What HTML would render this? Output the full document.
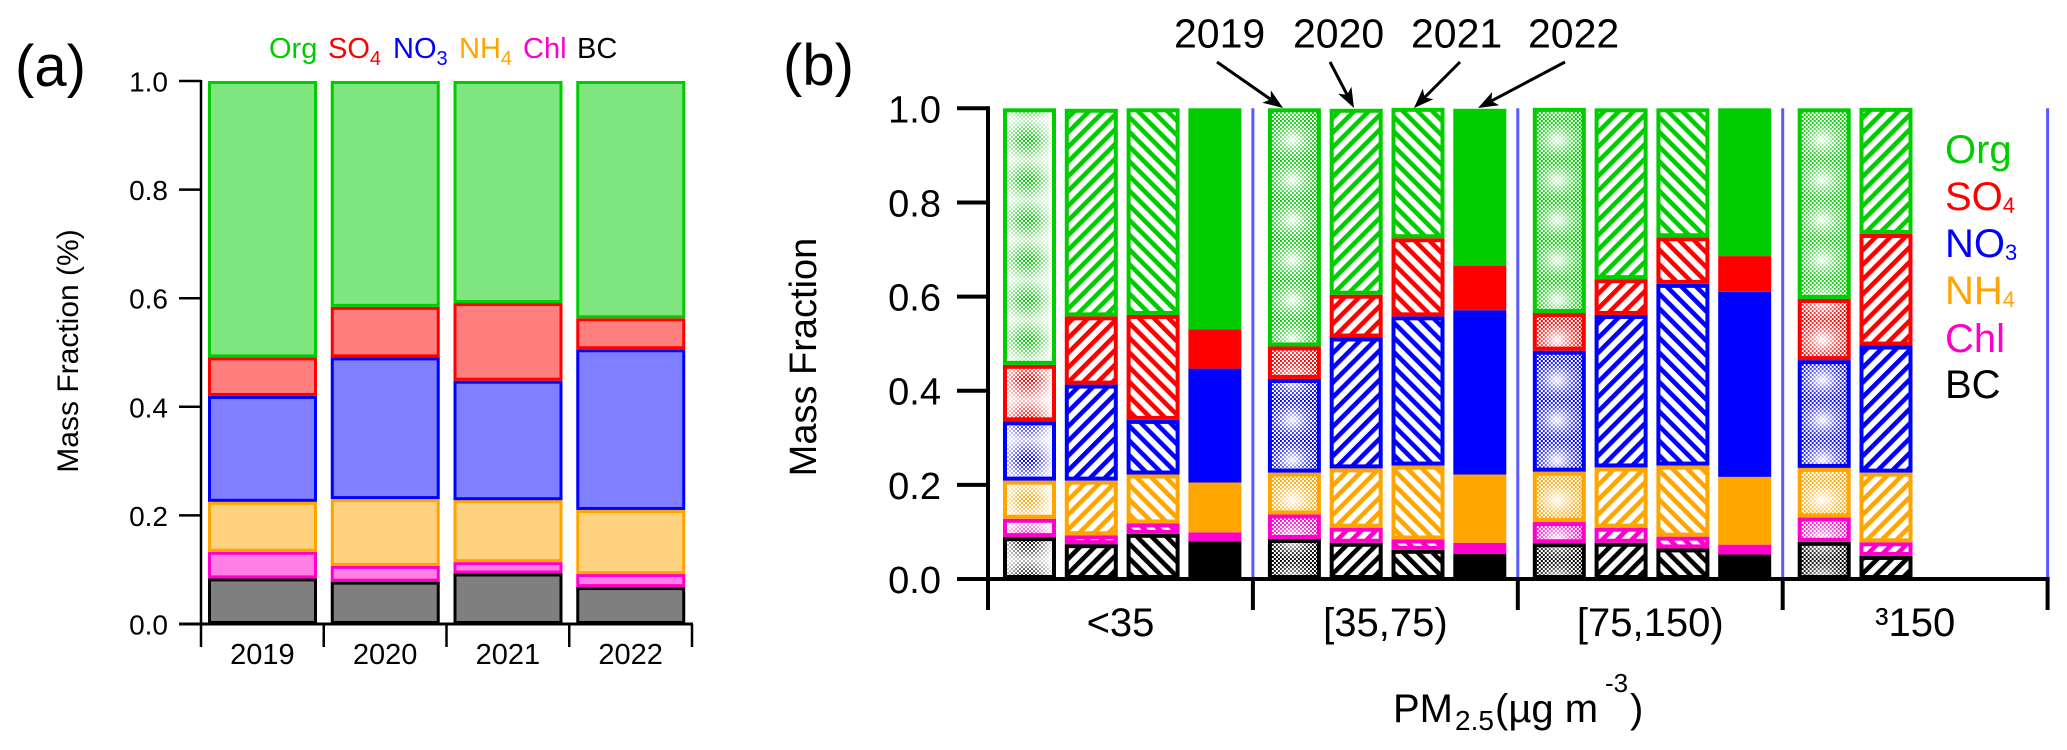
<!DOCTYPE html>
<html>
<head>
<meta charset="utf-8">
<title>Mass fraction charts</title>
<style>
html,body{margin:0;padding:0;background:#fff;width:2067px;height:750px;overflow:hidden}
svg{display:block}
text{font-family:"Liberation Sans",Arial,sans-serif;fill:#000}
</style>
</head>
<body>
<svg id="figure" xmlns="http://www.w3.org/2000/svg" width="2067" height="750" viewBox="0 0 2067 750">
<defs>
  <pattern id="wspot" patternUnits="userSpaceOnUse" width="49" height="40">
    <rect width="49" height="40" fill="url(#spotGrad)"/>
  </pattern>
  <radialGradient id="spotGrad" cx="0.5" cy="0.5" r="0.55">
    <stop offset="0" stop-color="#fff" stop-opacity="0.95"/>
    <stop offset="0.55" stop-color="#fff" stop-opacity="0.3"/>
    <stop offset="1" stop-color="#fff" stop-opacity="0"/>
  </radialGradient>
  <pattern id="wedge" patternUnits="userSpaceOnUse" width="49" height="40">
    <rect width="49" height="40" fill="url(#edgeGrad)"/>
    <rect width="49" height="40" fill="url(#bandGrad)"/>
  </pattern>
  <linearGradient id="edgeGrad" x1="0" x2="1" y1="0" y2="0">
    <stop offset="0" stop-color="#fff" stop-opacity="0.9"/>
    <stop offset="0.4" stop-color="#fff" stop-opacity="0"/>
    <stop offset="0.6" stop-color="#fff" stop-opacity="0"/>
    <stop offset="1" stop-color="#fff" stop-opacity="0.9"/>
  </linearGradient>
  <linearGradient id="bandGrad" x1="0" x2="0" y1="0" y2="1">
    <stop offset="0" stop-color="#fff" stop-opacity="0.75"/>
    <stop offset="0.5" stop-color="#fff" stop-opacity="0"/>
    <stop offset="1" stop-color="#fff" stop-opacity="0.75"/>
  </linearGradient>
</defs>
<g id="panelA"></g>
<g id="panelB"></g>

<text x="15" y="86" font-size="58">(a)</text>
<text x="783" y="85" font-size="58">(b)</text>
<text transform="translate(78,351) rotate(-90)" text-anchor="middle" font-size="30">Mass Fraction (%)</text>
<text transform="translate(816,357) rotate(-90)" text-anchor="middle" font-size="38">Mass Fraction</text>

<g font-size="29">
  <text x="269" y="58" style="fill:#00cc00">Org</text>
  <text x="328" y="58" style="fill:#ff0000">SO<tspan font-size="20" dy="7">4</tspan></text>
  <text x="393" y="58" style="fill:#0000ff">NO<tspan font-size="20" dy="7">3</tspan></text>
  <text x="459" y="58" style="fill:#ffa500">NH<tspan font-size="20" dy="7">4</tspan></text>
  <text x="523" y="58" style="fill:#ff00cc">Chl</text>
  <text x="577" y="58">BC</text>
</g>

<g font-size="40">
  <text x="1945" y="163" style="fill:#00cc00">Org</text>
  <text x="1945" y="210" style="fill:#ff0000">SO<tspan font-size="22" dy="3">4</tspan></text>
  <text x="1945" y="257" style="fill:#0000ff">NO<tspan font-size="22" dy="3">3</tspan></text>
  <text x="1945" y="304" style="fill:#ffa500">NH<tspan font-size="22" dy="3">4</tspan></text>
  <text x="1945" y="352" style="fill:#ff00cc">Chl</text>
  <text x="1945" y="398">BC</text>
</g>

<g font-size="40">
  <text x="1393" y="722">PM</text>
  <text x="1455" y="730" font-size="28">2.5</text>
  <text x="1495" y="722">(µg m</text>
  <text x="1605" y="692" font-size="26">-3</text>
  <text x="1630" y="722">)</text>
</g>

<g id="annotations" font-size="41"></g>
</svg>

<script>
// ---------- Panel (a) data ----------
var yearsA = ['2019', '2020', '2021', '2022'];
var aBC  = [0.084, 0.078, 0.093, 0.068];
var aChl = [0.049, 0.029, 0.021, 0.024];
var aNH4 = [0.092, 0.123, 0.114, 0.118];
var aNO3 = [0.195, 0.261, 0.220, 0.296];
var aSO4 = [0.071, 0.093, 0.143, 0.057];
var aOrg = [0.509, 0.416, 0.409, 0.437];
var yTickValues = [0, 0.2, 0.4, 0.6, 0.8, 1.0];
var yTickLabels = ['0.0', '0.2', '0.4', '0.6', '0.8', '1.0'];

// ---------- Panel (b) data: [group][year] ----------
var groupLabels = ['<35', '[35,75)', '[75,150)', '\u00B3150'];
var bBC  = [[0.089, 0.074, 0.096, 0.080], [0.085, 0.077, 0.062, 0.053], [0.076, 0.077, 0.065, 0.052], [0.079, 0.049]];
var bChl = [[0.039, 0.019, 0.022, 0.019], [0.052, 0.032, 0.022, 0.024], [0.045, 0.032, 0.025, 0.021], [0.052, 0.029]];
var bNH4 = [[0.081, 0.116, 0.104, 0.106], [0.089, 0.126, 0.157, 0.145], [0.107, 0.128, 0.151, 0.144], [0.105, 0.148]];
var bNO3 = [[0.126, 0.204, 0.116, 0.242], [0.199, 0.278, 0.317, 0.349], [0.257, 0.324, 0.386, 0.393], [0.229, 0.270]];
var bSO4 = [[0.120, 0.145, 0.223, 0.083], [0.069, 0.091, 0.166, 0.094], [0.080, 0.076, 0.099, 0.076], [0.130, 0.237]];
var bOrg = [[0.545, 0.441, 0.439, 0.470], [0.506, 0.395, 0.277, 0.334], [0.436, 0.363, 0.274, 0.314], [0.405, 0.268]];
var annotationYears = ['2019', '2020', '2021', '2022'];

var speciesColors = ['#000000', '#ff00cc', '#ffa500', '#0000ff', '#ff0000', '#00cc00'];
var speciesNames = ['bc', 'chl', 'nh4', 'no3', 'so4', 'org'];
var speciesA = [aBC, aChl, aNH4, aNO3, aSO4, aOrg];
var speciesB = [bBC, bChl, bNH4, bNO3, bSO4, bOrg];

var NS = 'http://www.w3.org/2000/svg';
function mk(tag, attrs, parent) {
  var e = document.createElementNS(NS, tag);
  for (var k in attrs) e.setAttribute(k, attrs[k]);
  parent.appendChild(e);
  return e;
}

// axis functions
function yA(v) { return 624 - v * 543; }
function xA(i) { return 201 + i * 122.75; }
function yB(v) { return 579 - v * 470.7; }
function xBGroup(g) { return 988 + g * 264.9; }
function xBBar(g, j) { return xBGroup(g) + 15 + j * 61.8; }

// patterns
var defs = document.querySelector('#figure defs');
speciesColors.forEach(function (c, s) {
  var ch = mk('pattern', { id: 'chk' + s, patternUnits: 'userSpaceOnUse', width: 4, height: 4 }, defs);
  mk('rect', { width: 4, height: 4, fill: '#fff' }, ch);
  mk('rect', { width: 2, height: 2, fill: c }, ch);
  mk('rect', { x: 2, y: 2, width: 2, height: 2, fill: c }, ch);
  [['up', 45], ['dn', -45]].forEach(function (d) {
    var h = mk('pattern', { id: d[0] + s, patternUnits: 'userSpaceOnUse', width: 10.4, height: 10.4, patternTransform: 'rotate(' + d[1] + ')' }, defs);
    mk('rect', { width: 10.4, height: 10.4, fill: '#fff' }, h);
    mk('rect', { width: 4.6, height: 10.4, fill: c }, h);
  });
});

// ---------- Panel (a) ----------
var pa = document.getElementById('panelA');
yearsA.forEach(function (yr, i) {
  var base = 0;
  var barG = mk('g', {}, pa);
  
  
  speciesA.forEach(function (arr, s) {
    var top = base + arr[i];
    var y0 = yA(top), y1 = yA(base);
    var r = mk('rect', {
      x: xA(i) + 7 + 1.5, y: y0 + 1.5, width: 106, height: Math.max(0, y1 - y0 - 3),
      fill: speciesColors[s], 'fill-opacity': 0.5, stroke: speciesColors[s], 'stroke-width': 3
    }, barG);
    
    
    base = top;
  });
  var lab = mk('text', { x: xA(i) + 61.4, y: 664, 'text-anchor': 'middle', 'font-size': 29 }, pa);
  lab.textContent = yr;
  
  
});
var yAxisA = mk('line', { x1: 201, x2: 201, y1: yA(1) - 1, y2: yA(0), stroke: '#000', 'stroke-width': 2.5 }, pa);


var xAxisA = mk('line', { x1: 179, x2: xA(4) + 1, y1: 624, y2: 624, stroke: '#000', 'stroke-width': 3 }, pa);


yTickValues.forEach(function (v, i) {
  var t = mk('line', { x1: 179, x2: 201, y1: yA(v), y2: yA(v), stroke: '#000', 'stroke-width': 2.5 }, pa);
  
  
  var l = mk('text', { x: 168, y: yA(v) + 10.5, 'text-anchor': 'end', 'font-size': 28 }, pa);
  l.textContent = yTickLabels[i];
  
  
});
for (var ti = 0; ti <= yearsA.length; ti++) {
  var tk = mk('line', { x1: xA(ti), x2: xA(ti), y1: 624, y2: 647, stroke: '#000', 'stroke-width': 2.5 }, pa);
  
  
}

// ---------- Panel (b) ----------
var pb = document.getElementById('panelB');
for (var gi = 0; gi <= groupLabels.length; gi++) {
  if (gi > 0) {
    var sep = mk('line', { x1: xBGroup(gi), x2: xBGroup(gi), y1: yB(1), y2: yB(0), stroke: '#5a5aff', 'stroke-width': 3 }, pb);
    
    
  }
}
function segStyle(j, s) {
  if (j === 1) return 'url(#up' + s + ')';
  if (j === 2) return 'url(#dn' + s + ')';
  return null;
}
groupLabels.forEach(function (gl, g) {
  bBC[g].forEach(function (_, j) {
    var bx = xBBar(g, j), base = 0;
    var barG = mk('g', { transform: 'translate(' + bx + ',0)' }, pb);
    
    
    speciesB.forEach(function (arr, s) {
      var top = base + arr[g][j];
      var y0 = yB(top), y1 = yB(base);
      var col = speciesColors[s];
      var h = Math.max(0, y1 - y0 - 4);
      var r;
      if (j === 3) {
        r = mk('rect', { x: 0, y: y0, width: 53, height: y1 - y0, fill: col }, barG);
      } else if (j === 0) {
        mk('rect', { x: 2, y: y0 + 2, width: 49, height: h, fill: 'url(#chk' + s + ')' }, barG);
        mk('rect', { x: 2, y: y0 + 2, width: 49, height: h, fill: g === 0 ? 'url(#wedge)' : 'url(#wspot)' }, barG);
        r = mk('rect', { x: 2, y: y0 + 2, width: 49, height: h, fill: 'none', stroke: col, 'stroke-width': 4 }, barG);
      } else {
        r = mk('rect', { x: 2, y: y0 + 2, width: 49, height: h, fill: segStyle(j, s), stroke: col, 'stroke-width': 4 }, barG);
      }
      
      
      base = top;
    });
  });
  var lab = mk('text', { x: xBGroup(g) + 132.5, y: 636, 'text-anchor': 'middle', 'font-size': 40 }, pb);
  lab.textContent = gl;
  
  
});
var yAxisB = mk('line', { x1: 988, x2: 988, y1: yB(1) - 2, y2: yB(0), stroke: '#000', 'stroke-width': 4 }, pb);


var xAxisB = mk('line', { x1: 957, x2: xBGroup(4) + 2, y1: 579, y2: 579, stroke: '#000', 'stroke-width': 4 }, pb);


yTickValues.forEach(function (v, i) {
  var t = mk('line', { x1: 957, x2: 988, y1: yB(v), y2: yB(v), stroke: '#000', 'stroke-width': 4 }, pb);
  
  
  var l = mk('text', { x: 941, y: yB(v) + 14, 'text-anchor': 'end', 'font-size': 38 }, pb);
  l.textContent = yTickLabels[i];
  
  
});
for (var tg = 0; tg <= groupLabels.length; tg++) {
  var tb = mk('line', { x1: xBGroup(tg), x2: xBGroup(tg), y1: 579, y2: 610, stroke: '#000', 'stroke-width': 4 }, pb);
  
  
}

// ---------- Year annotations with arrows ----------
var ann = document.getElementById('annotations');
var annLabelLeft = [1174, 1293, 1411, 1528];
var arrowFrom = [[1217, 62], [1330, 62], [1460, 62], [1565, 62]];
var arrowTo = [[1283, 108], [1354, 108], [1414, 108], [1478, 108]];
annotationYears.forEach(function (yr, i) {
  var t = mk('text', { x: annLabelLeft[i], y: 47.5, 'font-size': 41 }, ann);
  t.textContent = yr;
  
  
  var a = arrowFrom[i], b = arrowTo[i];
  var dx = b[0] - a[0], dy = b[1] - a[1], len = Math.sqrt(dx * dx + dy * dy);
  var ux = dx / len, uy = dy / len, nx = -uy, ny = ux;
  var ln = mk('line', { x1: a[0], y1: a[1], x2: b[0] - ux * 12, y2: b[1] - uy * 12, stroke: '#000', 'stroke-width': 3 }, ann);
  
  
  var pts = [
    [b[0], b[1]],
    [b[0] - ux * 20 + nx * 7.5, b[1] - uy * 20 + ny * 7.5],
    [b[0] - ux * 15, b[1] - uy * 15],
    [b[0] - ux * 20 - nx * 7.5, b[1] - uy * 20 - ny * 7.5]
  ].map(function (p) { return p[0].toFixed(1) + ',' + p[1].toFixed(1); }).join(' ');
  var hd = mk('polygon', { points: pts, fill: '#000' }, ann);
  
  
});
</script>
</body>
</html>
